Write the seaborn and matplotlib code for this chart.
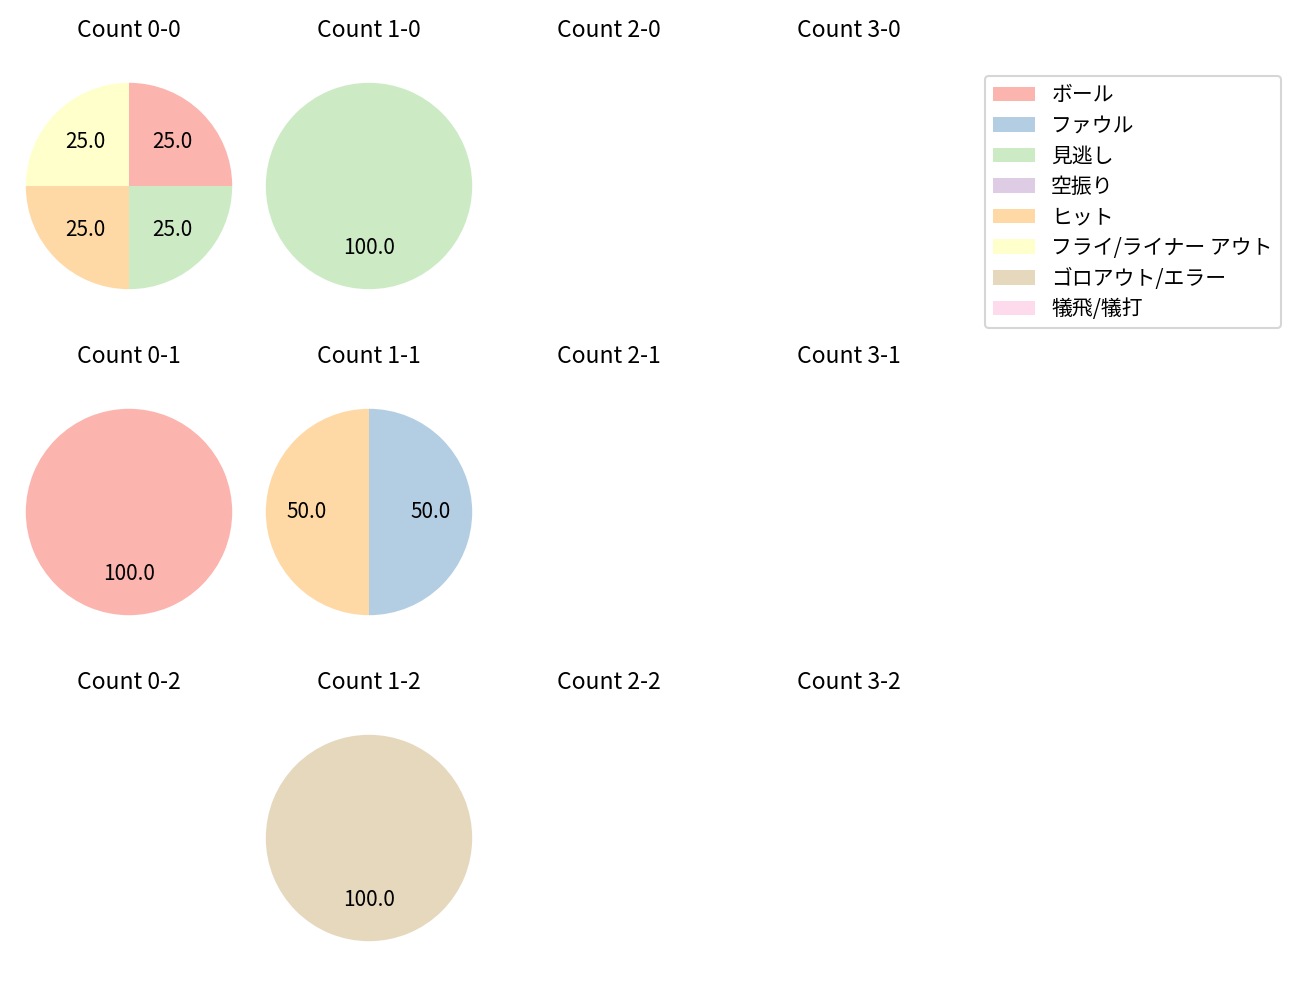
import matplotlib
matplotlib.use("Agg")
import matplotlib.pyplot as plt
from matplotlib.patches import Patch
import seaborn as sns

plt.rcParams['font.family'] = ['Noto Sans CJK JP', 'DejaVu Sans']

# pitch result categories (legend order)
categories = ["ボール", "ファウル", "見逃し", "空振り", "ヒット",
              "フライ/ライナー アウト", "ゴロアウト/エラー", "犠飛/犠打"]

balls = [0, 1, 2, 3]
strikes = [0, 1, 2]

# counts per category for each ball-strike count
count_0_0 = [1, 0, 1, 0, 1, 1, 0, 0]
count_1_0 = [0, 0, 1, 0, 0, 0, 0, 0]
count_0_1 = [1, 0, 0, 0, 0, 0, 0, 0]
count_1_1 = [0, 1, 0, 0, 1, 0, 0, 0]
count_1_2 = [0, 0, 0, 0, 0, 0, 1, 0]

counts = {
    "0-0": count_0_0,
    "1-0": count_1_0,
    "0-1": count_0_1,
    "1-1": count_1_1,
    "1-2": count_1_2,
}

colors = sns.color_palette("Pastel1", len(categories))

W, H, DPI = 1300, 1000, 150
fig = plt.figure(figsize=(W / DPI, H / DPI), dpi=DPI)

side = 258
for i, s in enumerate(strikes):
    for j, b in enumerate(balls):
        cx = 129 + 240 * j
        cy = 186 + 326 * i
        ax = fig.add_axes([(cx - side / 2) / W, (H - cy - side / 2) / H, side / W, side / H])
        key = f"{b}-{s}"
        vals = counts.get(key)
        if vals is not None:
            v = [x for x in vals if x > 0]
            c = [colors[k] for k, x in enumerate(vals) if x > 0]
            ax.pie(v, colors=c, startangle=90, counterclock=False, autopct="%.1f")
        else:
            ax.set_xlim(-1.25, 1.25)
            ax.set_ylim(-1.25, 1.25)
            ax.set_aspect("equal")
        ax.axis("off")
        ax.set_title(f"Count {key}", pad=9.6, fontsize=11)

handles = [Patch(facecolor=colors[k], label=cat) for k, cat in enumerate(categories)]
fig.legend(handles=handles, loc="upper right", labelspacing=0.41,
           bbox_to_anchor=(1291.5 / W, 1 - 65.5 / H))

fig.savefig("out.png", dpi=DPI)
